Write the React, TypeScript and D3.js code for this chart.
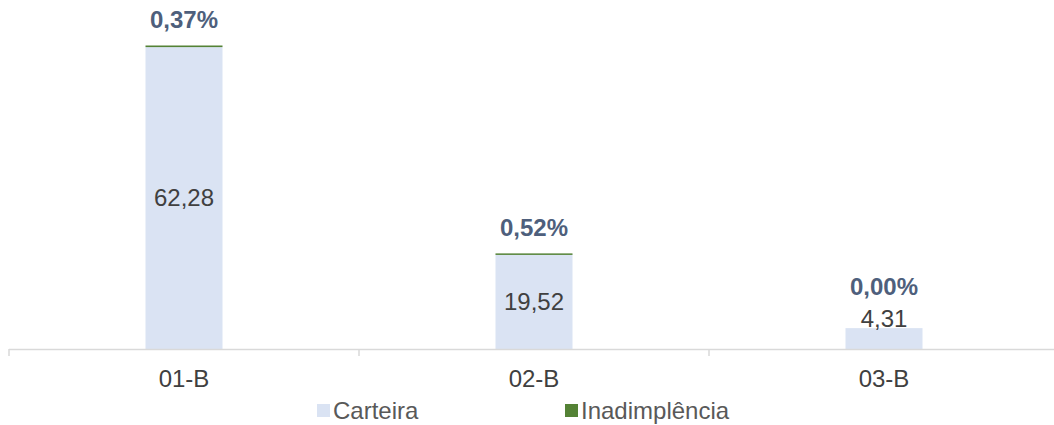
import React from 'react';
import * as d3 from 'd3';

const categories = ['01-B', '02-B', '03-B'];
const carteira = [62.28, 19.52, 4.31];
const inadimplencia = [0.23, 0.1, 0.0];
const pctLabels = ['0,37%', '0,52%', '0,00%'];

const W = 1054;
const H = 425;
const FONT = '"Liberation Sans", Arial, sans-serif';
const BLUE = '#dae3f3';
const GREEN = '#548235';

const fmt = (v: number) => v.toFixed(2).replace('.', ',');

const App = () => {
  const x = d3.scaleBand().domain(categories).range([9, 1059]).padding(0);
  const y = d3.scaleLinear().domain([0, 62.51]).range([349, 46]);
  const barW = x.bandwidth() * 0.22;

  return (
    <svg width={W} height={H} style={{ position: 'absolute', left: 0, top: 0 }} fontFamily={FONT}>
      <rect width={W} height={H} fill="#fff" />
      {categories.map((c, i) => {
        const cx = x(c)! + x.bandwidth() / 2;
        const top = y(carteira[i]);
        const topG = y(carteira[i] + inadimplencia[i]);
        const h = y(0) - top;
        const labelY = h > 40 ? (top + y(0)) / 2 : top - 10;
        const pctY = h > 40 ? topG - 26 : labelY - 32;
        return (
          <g key={c}>
            <rect x={cx - barW / 2} y={top} width={barW} height={h} fill={BLUE} />
            {inadimplencia[i] > 0 && (
              <rect x={cx - barW / 2} y={topG - 0.5} width={barW} height={Math.max(top - topG, 1) + 0.5} fill={GREEN} />
            )}
            <text x={cx} y={labelY} dy="0.35em" textAnchor="middle" fontSize={24} fill="#404040">
              {fmt(carteira[i])}
            </text>
            <text x={cx} y={pctY} dy="0.35em" textAnchor="middle" fontSize={24} fontWeight="bold" fill="#4e5f7c">
              {pctLabels[i]}
            </text>
            <text x={cx} y={379} dy="0.35em" textAnchor="middle" fontSize={24} fill="#404040">
              {c}
            </text>
          </g>
        );
      })}
      <line x1={9} x2={W} y1={349.5} y2={349.5} stroke="#d9d9d9" strokeWidth={1.5} />
      {[0, 1, 2, 3].map(i => {
        const tx = 9 + i * x.step();
        return <line key={i} x1={tx} x2={tx} y1={349} y2={356} stroke="#d9d9d9" strokeWidth={1.5} />;
      })}
      <g fontSize={24} fill="#595959">
        <rect x={317} y={404} width={13} height={13} fill={BLUE} />
        <text x={333} y={411} dy="0.35em" fill="#595959">Carteira</text>
        <rect x={565} y={404} width={13} height={13} fill={GREEN} />
        <text x={581} y={411} dy="0.35em" fill="#595959">Inadimplência</text>
      </g>
    </svg>
  );
};

export default App;
